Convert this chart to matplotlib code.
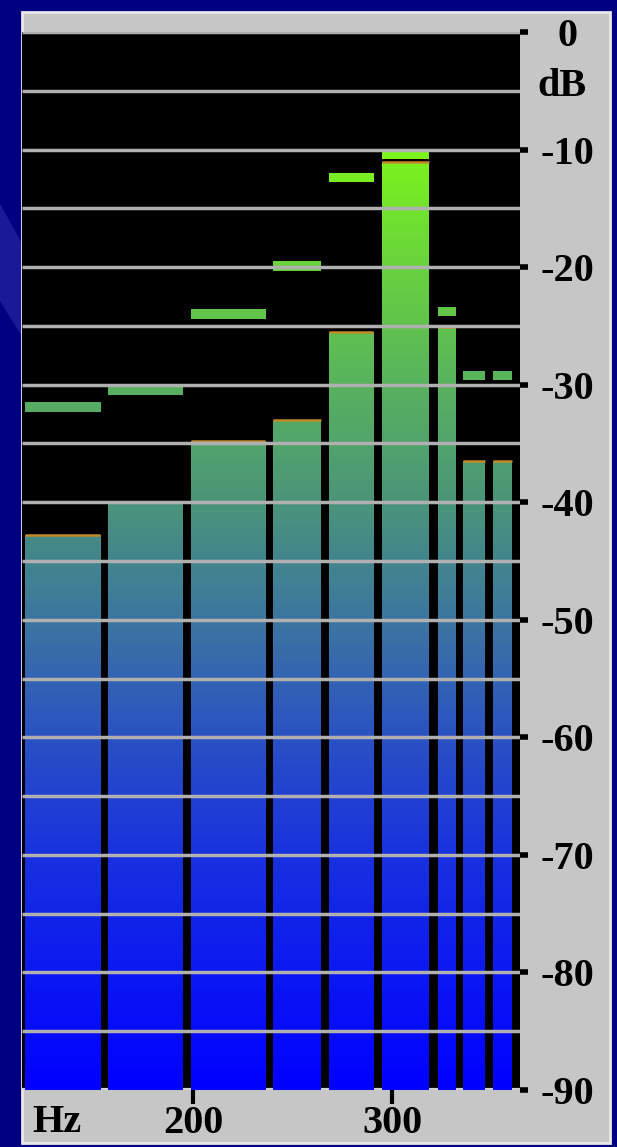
import numpy as np
import matplotlib.pyplot as plt
from matplotlib.colors import LinearSegmentedColormap
from matplotlib.patches import Rectangle, Polygon

# spectrum bands (Hz edges), current level and peak-hold level (dB)
bar_left = [115.6, 157.3, 199.0, 240.2, 268.3, 295.0, 323.1, 335.7, 350.8]
bar_right = [153.3, 194.5, 236.2, 264.3, 290.5, 318.6, 331.7, 346.7, 360.3]
level_db = [-42.8, -40.0, -34.8, -33.0, -25.5, -11.1, -25.1, -36.5, -36.5]
peak_db = [-31.9, -30.5, -24.0, -19.9, -12.4, -10.4, -23.8, -29.2, -29.2]
db_ticks = [0, -10, -20, -30, -40, -50, -60, -70, -80, -90]
hz_ticks = [200, 300]

W, H = 617, 1147
fig = plt.figure(figsize=(W / 100, H / 100), dpi=100)
fig.patch.set_facecolor('#000080')

# template swoosh on the left edge
fig.add_artist(Polygon([(0, 1 - 205 / H), (22 / W, 1 - 245 / H), (22 / W, 1 - 335 / H), (0, 1 - 300 / H)],
                       closed=True, transform=fig.transFigure, color='#1a1a98', zorder=0))

# gray analyzer panel
fig.add_artist(Rectangle((22 / W, 1 - 1143 / H), (610 - 22) / W, (1143 - 12) / H,
                         transform=fig.transFigure, facecolor='#c6c6c6', edgecolor='#e8e8e8', lw=2, zorder=0))

ax = fig.add_axes([22 / W, 1 - 1090 / H, 498 / W, (1090 - 32) / H])
ax.set_facecolor('black')
xmin, xmax = 114.1, 364.3
ax.set_xlim(xmin, xmax)
ax.set_ylim(-90, 0)

cmap = LinearSegmentedColormap.from_list('spec', [
    (0.0, (0 / 255, 0 / 255, 255 / 255)),
    (10 / 90, (12 / 255, 25 / 255, 242 / 255)),
    (20 / 90, (25 / 255, 50 / 255, 222 / 255)),
    (30 / 90, (42 / 255, 82 / 255, 196 / 255)),
    (40 / 90, (60 / 255, 118 / 255, 160 / 255)),
    (50 / 90, (74 / 255, 148 / 255, 122 / 255)),
    (60 / 90, (88 / 255, 178 / 255, 94 / 255)),
    (70 / 90, (104 / 255, 210 / 255, 62 / 255)),
    (80 / 90, (124 / 255, 244 / 255, 28 / 255)),
    (1.0, (130 / 255, 255 / 255, 20 / 255)),
])
grad = np.linspace(0, 1, 256).reshape(-1, 1)

for l, r, lv, pk in zip(bar_left, bar_right, level_db, peak_db):
    for y0, y1 in [(-90, lv), (pk - 0.4, pk + 0.4)]:
        clip = Rectangle((l, y0), r - l, y1 - y0, facecolor='none', edgecolor='none')
        ax.add_patch(clip)
        im = ax.imshow(grad, extent=[xmin, xmax, -90, 0], origin='lower', aspect='auto',
                       cmap=cmap, zorder=1, interpolation='bilinear')
        im.set_clip_path(clip)
    ax.hlines(lv, l, r, color='#c08a28', lw=1.8, zorder=2)

# grid lines every 5 dB over the bars, bottom line under them
ax.hlines(np.arange(-85, 1, 5), xmin, xmax, color='#b0b0b0', lw=2.5, zorder=3)
ax.hlines(-90, xmin, xmax, color='#d0d0d0', lw=3, zorder=0.5)

for s in ax.spines.values():
    s.set_visible(False)

font = dict(fontfamily='Liberation Serif', fontweight='bold', fontsize=29)

ax.yaxis.tick_right()
ax.set_yticks(db_ticks)
ax.set_yticklabels([str(v) for v in db_ticks])
ax.tick_params(axis='y', length=6, width=4, color='black', pad=28)
for lbl in ax.get_yticklabels():
    lbl.set_ha('center')
    lbl.set(**font)

ax.set_xticks(hz_ticks)
ax.set_xticklabels([str(v) for v in hz_ticks])
ax.tick_params(axis='x', length=10, width=3, color='black', pad=1)
for lbl in ax.get_xticklabels():
    lbl.set(**font)

ax.text(1.0843, -4.6, 'dB', transform=ax.get_yaxis_transform(), ha='center', va='center',
        clip_on=False, **font)
ax.text(0.07, -0.031, 'Hz', transform=ax.transAxes, ha='center', va='center',
        clip_on=False, **font)

fig.savefig('out.png', dpi=100, facecolor=fig.get_facecolor())
